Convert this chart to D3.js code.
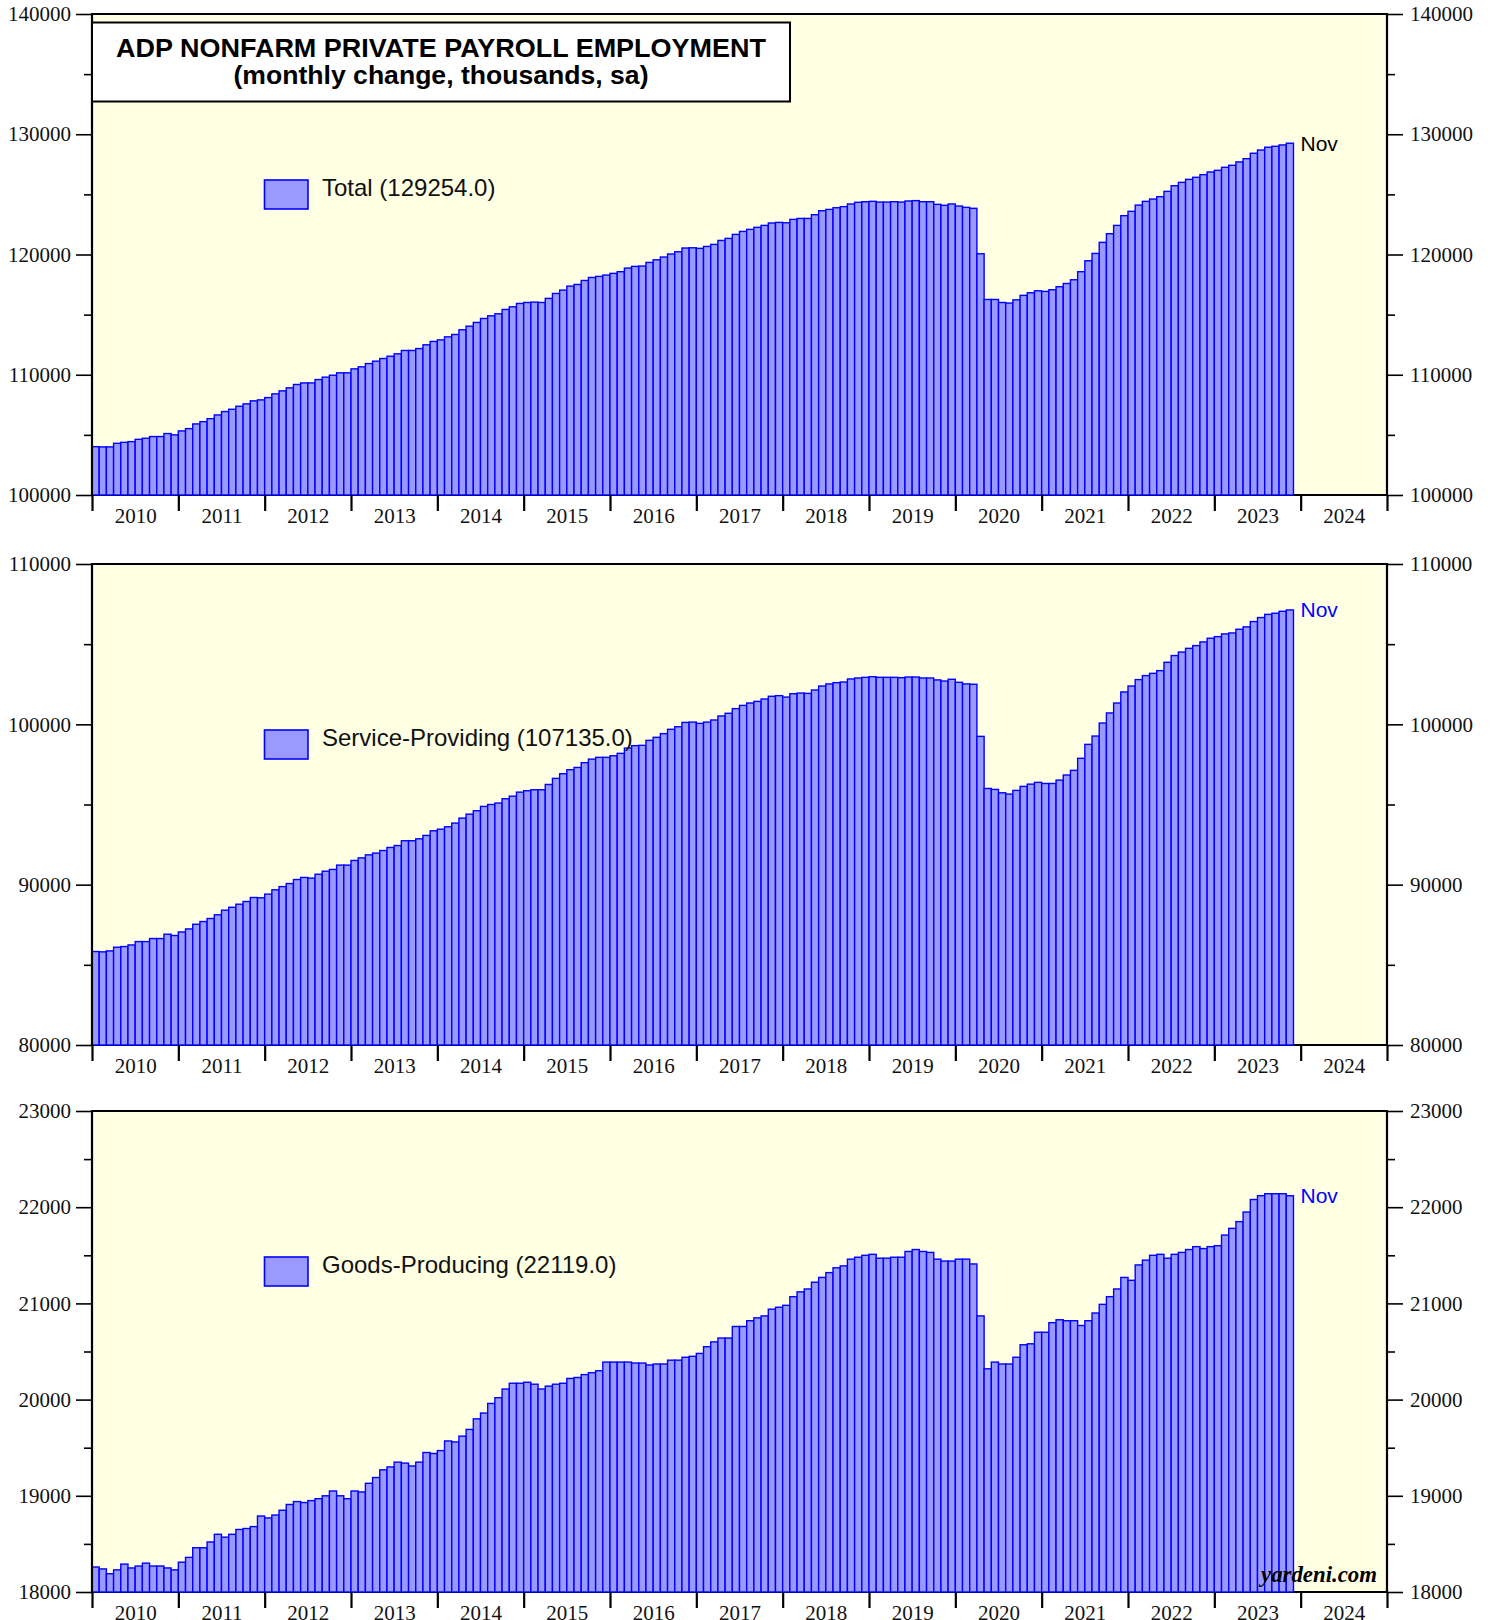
<!DOCTYPE html>
<html>
<head>
<meta charset="utf-8">
<script src="https://cdn.jsdelivr.net/npm/d3@7"></script>
<style>
  html, body { margin: 0; padding: 0; background: #fff; }
  svg { display: block; }
  .tick text { font-family: "Liberation Serif", "Times New Roman", serif; font-size: 21px; fill: #111; }
  .tick line { stroke: #000; stroke-width: 1.6; }
</style>
</head>
<body>
<svg id="chart" width="1491" height="1620"></svg>
<script>
// monthly levels, Jan 2010 .. Nov 2023 (thousands, sa)
const total = [
  104020, 104000, 104000, 104300, 104380, 104440, 104630, 104720, 104860, 104860, 105110, 105000,
  105330, 105520, 105910, 106100, 106350, 106660, 106940, 107130, 107380, 107580, 107830, 107910,
  108100, 108410, 108660, 108910, 109190, 109320, 109320, 109600, 109800, 109960, 110160, 110160,
  110490, 110660, 110930, 111130, 111350, 111540, 111740, 112020, 112020, 112180, 112490, 112770,
  112900, 113150, 113350, 113740, 114040, 114350, 114680, 114900, 115070, 115430, 115650, 115930,
  116010, 116040, 116010, 116350, 116760, 117040, 117370, 117510, 117840, 118090, 118180, 118290,
  118430, 118570, 118870, 119010, 119040, 119340, 119560, 119790, 120040, 120230, 120540, 120560,
  120510, 120670, 120840, 121170, 121340, 121670, 121920, 122090, 122260, 122420, 122620, 122670,
  122640, 122920, 123000, 123000, 123310, 123640, 123750, 123890, 123980, 124200, 124340, 124390,
  124420, 124360, 124360, 124390, 124360, 124450, 124480, 124390, 124390, 124170, 124090, 124200,
  124030, 123920, 123840, 120060, 116260, 116260, 116010, 115960, 116230, 116600, 116820, 116980,
  116930, 117070, 117320, 117590, 117900, 118570, 119480, 120090, 121010, 121730, 122420, 123230,
  123590, 124110, 124420, 124610, 124810, 125250, 125720, 126000, 126250, 126420, 126640, 126860,
  127000, 127250, 127420, 127700, 127970, 128420, 128690, 128920, 129000, 129110, 129254
]
const services = [
  85830, 85810, 85870, 86100, 86140, 86240, 86450, 86450, 86640, 86640, 86910, 86830,
  87050, 87240, 87530, 87700, 87890, 88120, 88410, 88590, 88780, 88950, 89200, 89180,
  89410, 89680, 89880, 90070, 90320, 90450, 90410, 90650, 90840, 90950, 91220, 91220,
  91510, 91670, 91860, 91970, 92130, 92320, 92440, 92740, 92740, 92860, 93070, 93360,
  93460, 93610, 93840, 94150, 94400, 94610, 94880, 95000, 95090, 95360, 95520, 95770,
  95860, 95920, 95920, 96250, 96630, 96920, 97170, 97310, 97610, 97830, 97940, 97940,
  98040, 98190, 98520, 98670, 98690, 99000, 99190, 99420, 99690, 99850, 100120, 100140,
  100060, 100140, 100270, 100520, 100690, 100980, 101180, 101330, 101430, 101580, 101750, 101790,
  101700, 101910, 101950, 101930, 102140, 102390, 102520, 102600, 102640, 102830, 102890, 102930,
  102970, 102930, 102930, 102930, 102910, 102950, 102950, 102890, 102890, 102770, 102700, 102810,
  102620, 102520, 102500, 99250, 96000, 95940, 95730, 95650, 95880, 96130, 96270, 96380,
  96310, 96310, 96520, 96840, 97130, 97880, 98750, 99270, 100080, 100710, 101330, 102020,
  102390, 102790, 103040, 103180, 103350, 103870, 104290, 104510, 104740, 104910, 105140, 105370,
  105470, 105640, 105700, 105930, 106080, 106410, 106660, 106860, 106930, 107050, 107135
]
const goods = [
  18260, 18240, 18190, 18230, 18290, 18250, 18270, 18300, 18270, 18270, 18250, 18230,
  18310, 18360, 18460, 18460, 18520, 18600, 18570, 18600, 18650, 18660, 18680, 18790,
  18770, 18800, 18850, 18910, 18940, 18930, 18950, 18970, 19000, 19050, 19000, 18970,
  19050, 19040, 19130, 19190, 19270, 19300, 19350, 19340, 19310, 19350, 19450, 19440,
  19470, 19570, 19560, 19620, 19690, 19800, 19860, 19960, 20020, 20110, 20170, 20170,
  20180, 20160, 20110, 20140, 20160, 20170, 20220, 20230, 20260, 20280, 20300, 20390,
  20390, 20390, 20390, 20380, 20380, 20360, 20370, 20370, 20410, 20410, 20440, 20450,
  20480, 20550, 20600, 20640, 20640, 20760, 20760, 20820, 20850, 20870, 20940, 20960,
  20980, 21070, 21120, 21150, 21220, 21270, 21320, 21370, 21390, 21460, 21480, 21500,
  21510, 21470, 21470, 21480, 21480, 21540, 21560, 21540, 21530, 21460, 21440, 21440,
  21460, 21460, 21410, 20870, 20320, 20390, 20370, 20370, 20440, 20570, 20580, 20700,
  20700, 20800, 20830, 20820, 20820, 20770, 20820, 20900, 20990, 21070, 21150, 21270,
  21240, 21400, 21450, 21500, 21510, 21470, 21510, 21530, 21560, 21590, 21570, 21590,
  21600, 21710, 21780, 21850, 21950, 22080, 22120, 22140, 22140, 22140, 22119
]

// month positions in fractional years
const months = d3.range(total.length).map(i => 2010 + i / 12)
const yearLabels = d3.range(2010, 2025)
const yearEdges = d3.range(2010, 2026)

const totalTicks = [100000, 110000, 120000, 130000, 140000]
const totalMinor = [105000, 115000, 125000, 135000]
const servicesTicks = [80000, 90000, 100000, 110000]
const servicesMinor = [85000, 95000, 105000]
const goodsTicks = [18000, 19000, 20000, 21000, 22000, 23000]
const goodsMinor = [18500, 19500, 20500, 21500, 22500]

const titleLines = ['ADP NONFARM PRIVATE PAYROLL EMPLOYMENT', '(monthly change, thousands, sa)']

const L = 92, R = 1387, H = 481
const BG = '#ffffe3', FILL = '#9999ff', EDGE = '#0000ff'

const panels = [
  { top: 14, values: total, domain: [100000, 140000], ticks: totalTicks, minor: totalMinor,
    name: 'Total', legendTop: 166, lastColor: '#000' },
  { top: 564, values: services, domain: [80000, 110000], ticks: servicesTicks, minor: servicesMinor,
    name: 'Service-Providing', legendTop: 166, lastColor: EDGE },
  { top: 1111, values: goods, domain: [18000, 23000], ticks: goodsTicks, minor: goodsMinor,
    name: 'Goods-Producing', legendTop: 146, lastColor: EDGE }
]

const svg = d3.select('#chart')
const x = d3.scaleLinear().domain([2010, 2025]).range([L, R])

function stripDomain(sel) {
  sel.select('.domain').remove()
}

function drawPanel(p) {
  const bottom = p.top + H
  const y = d3.scaleLinear().domain(p.domain).range([bottom, p.top])
  const g = svg.append('g')

  g.append('rect')
    .attr('x', L).attr('y', p.top)
    .attr('width', R - L).attr('height', H)
    .attr('fill', BG)

  g.append('line')
    .attr('x1', L).attr('x2', R).attr('y1', bottom).attr('y2', bottom)
    .attr('stroke', '#000').attr('stroke-width', 2.2)

  g.append('g')
    .selectAll('rect')
    .data(p.values)
    .join('rect')
    .attr('x', (d, i) => x(months[i]))
    .attr('width', (d, i) => x(months[i] + 1 / 12) - x(months[i]))
    .attr('y', d => y(d))
    .attr('height', d => bottom - y(d))
    .attr('fill', FILL)
    .attr('stroke', EDGE)
    .attr('stroke-width', 1.4)

  // left, top, right frame
  g.append('path')
    .attr('d', `M${L},${bottom}V${p.top}H${R}V${bottom}`)
    .attr('fill', 'none').attr('stroke', '#000').attr('stroke-width', 2.2)

  const fmt = d3.format('d')
  g.append('g').attr('transform', `translate(${L},0)`)
    .call(d3.axisLeft(y).tickValues(p.ticks).tickSize(16).tickPadding(5).tickFormat(fmt))
    .call(stripDomain)
  g.append('g').attr('transform', `translate(${L},0)`)
    .call(d3.axisLeft(y).tickValues(p.minor).tickSize(8).tickFormat(''))
    .call(stripDomain)
  g.append('g').attr('transform', `translate(${R},0)`)
    .call(d3.axisRight(y).tickValues(p.ticks).tickSize(16).tickPadding(7).tickFormat(fmt))
    .call(stripDomain)
  g.append('g').attr('transform', `translate(${R},0)`)
    .call(d3.axisRight(y).tickValues(p.minor).tickSize(8).tickFormat(''))
    .call(stripDomain)

  // year ticks and centred year labels
  g.append('g').attr('transform', `translate(0,${bottom})`)
    .call(d3.axisBottom(x).tickValues(yearEdges).tickSize(16).tickFormat(''))
    .call(stripDomain)
    .selectAll('line').style('stroke-width', 2.2)
  g.append('g').attr('transform', `translate(0,${bottom})`)
    .call(d3.axisBottom(x).tickValues(yearLabels.map(v => v + 0.5)).tickSize(0).tickPadding(13)
      .tickFormat(d => Math.floor(d)))
    .call(stripDomain)

  // legend
  const last = p.values[p.values.length - 1]
  g.append('rect')
    .attr('x', 264.5).attr('y', p.top + p.legendTop)
    .attr('width', 43.5).attr('height', 29)
    .attr('fill', FILL).attr('stroke', EDGE).attr('stroke-width', 1.6)
  g.append('text')
    .attr('x', 322).attr('y', p.top + p.legendTop + 16)
    .attr('font-family', '"Liberation Sans", Arial, sans-serif')
    .attr('font-size', 24).attr('fill', '#111')
    .text(`${p.name} (${last.toFixed(1)})`)

  // last month marker
  const lastX = x(months[months.length - 1] + 1 / 12)
  g.append('text')
    .attr('x', lastX + 7).attr('y', y(last)).attr('dy', '0.36em')
    .attr('font-family', '"Liberation Sans", Arial, sans-serif')
    .attr('font-size', 21).attr('fill', p.lastColor)
    .text('Nov')
}

panels.forEach(drawPanel)

// title box
const tb = svg.append('g')
tb.append('rect')
  .attr('x', 92).attr('y', 22.5).attr('width', 698).attr('height', 79)
  .attr('fill', '#fff').attr('stroke', '#000').attr('stroke-width', 2)
tb.selectAll('text')
  .data(titleLines)
  .join('text')
  .attr('x', 441)
  .attr('y', (d, i) => 57 + i * 27)
  .attr('text-anchor', 'middle')
  .attr('font-family', '"Liberation Sans", Arial, sans-serif')
  .attr('font-weight', 'bold')
  .attr('font-size', 26)
  .attr('textLength', (d, i) => i === 0 ? 650 : 415)
  .attr('lengthAdjust', 'spacingAndGlyphs')
  .text(d => d)

svg.append('text')
  .attr('x', 1377).attr('y', 1582)
  .attr('text-anchor', 'end')
  .attr('font-family', '"Liberation Serif", "Times New Roman", serif')
  .attr('font-weight', 'bold').attr('font-style', 'italic')
  .attr('font-size', 23)
  .attr('textLength', 116).attr('lengthAdjust', 'spacingAndGlyphs')
  .text('yardeni.com')
</script>
</body>
</html>
